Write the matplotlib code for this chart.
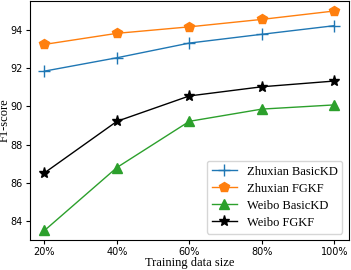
import numpy as np
import matplotlib
matplotlib.use("Agg")
import matplotlib.pyplot as plt

sizes = ["20%", "40%", "60%", "80%", "100%"]
zhuxian_basic = [91.85, 92.55, 93.32, 93.78, 94.23]
zhuxian_fgkf = [93.25, 93.83, 94.17, 94.56, 95.0]
weibo_basic = [83.5, 86.8, 89.22, 89.86, 90.08]
weibo_fgkf = [86.52, 89.22, 90.55, 91.03, 91.33]

fig = plt.figure(figsize=(3.51, 2.7), dpi=100)
ax = fig.add_axes([0.0855, 0.111, 0.908, 0.885])
x = np.arange(len(sizes))

ax.plot(x, zhuxian_basic, marker='+', color='#1f77b4', lw=1, ms=9, label='Zhuxian BasicKD')
ax.plot(x, zhuxian_fgkf, marker='p', color='#ff7f0e', lw=1, ms=7, label='Zhuxian FGKF')
ax.plot(x, weibo_basic, marker='^', color='#2ca02c', lw=1, ms=7, label='Weibo BasicKD')
ax.plot(x, weibo_fgkf, marker='*', color='black', lw=1, ms=8, label='Weibo FGKF')

ax.set_xticks(x)
ax.set_xticklabels(sizes)
ax.set_yticks([84, 86, 88, 90, 92, 94])
ax.set_ylim(83.0, 95.52)
ax.tick_params(labelsize=7, length=3, width=0.8, pad=2)

serif = 'Liberation Serif'
ax.set_xlabel("Training data size", fontsize=9, family=serif, labelpad=0)
ax.set_ylabel("F1-score", fontsize=9, family=serif, labelpad=0)
ax.legend(loc='lower right', prop={'family': serif, 'size': 9}, handlelength=2,
          borderaxespad=0.5, labelspacing=0.4)

fig.savefig("out.png", dpi=100)
